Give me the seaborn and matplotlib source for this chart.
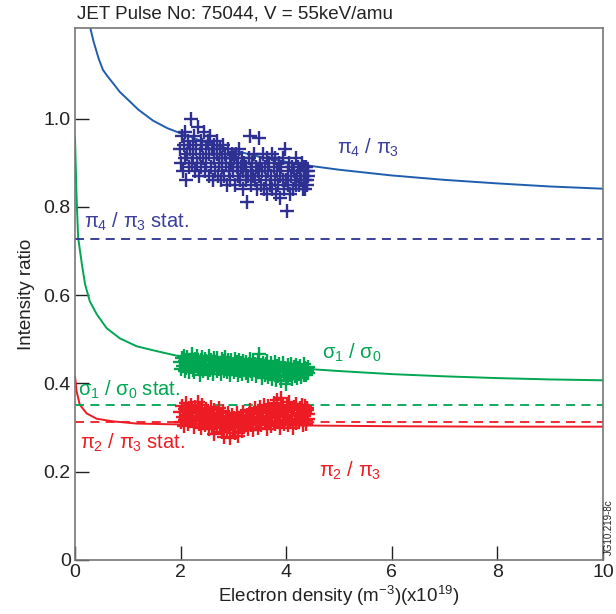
import matplotlib
matplotlib.use('Agg')
import matplotlib.pyplot as plt
import seaborn as sns
from matplotlib.ticker import FuncFormatter

# measured electron density for each time slice (x10^19 m^-3)
ne = [1.99, 2.01, 2.03, 2.04, 2.06, 2.08, 2.09, 2.11, 2.13, 2.14, 2.16, 2.18, 2.19, 2.21, 2.23,
      2.24, 2.26, 2.28, 2.29, 2.31, 2.33, 2.34, 2.36, 2.38, 2.39, 2.41, 2.43, 2.44, 2.46, 2.48,
      2.49, 2.51, 2.53, 2.54, 2.56, 2.58, 2.59, 2.61, 2.63, 2.64, 2.66, 2.68, 2.69, 2.71, 2.73,
      2.74, 2.76, 2.78, 2.79, 2.81, 2.83, 2.84, 2.86, 2.88, 2.89, 2.91, 2.93, 2.94, 2.96, 2.98,
      2.99, 3.01, 3.03, 3.04, 3.06, 3.08, 3.09, 3.11, 3.13, 3.14, 3.16, 3.18, 3.19, 3.21, 3.23,
      3.24, 3.26, 3.28, 3.29, 3.31, 3.33, 3.34, 3.36, 3.38, 3.39, 3.41, 3.43, 3.44, 3.46, 3.48,
      3.49, 3.51, 3.53, 3.54, 3.56, 3.58, 3.59, 3.61, 3.63, 3.64, 3.66, 3.68, 3.69, 3.71, 3.73,
      3.74, 3.76, 3.78, 3.79, 3.81, 3.83, 3.84, 3.86, 3.88, 3.89, 3.91, 3.93, 3.94, 3.96, 3.98,
      3.99, 4.01, 4.03, 4.04, 4.06, 4.08, 4.09, 4.11, 4.13, 4.14, 4.16, 4.18, 4.19, 4.21, 4.23,
      4.24, 4.26, 4.28, 4.29, 4.31, 4.33, 4.34, 4.36, 4.38, 4.39, 4.41, 4.42, 4.40, 4.37, 4.35]

# measured ratios
pi4_pi3 = [0.93, 0.90, 0.96, 0.88, 0.94, 0.91, 0.97, 0.86, 0.92, 0.95, 0.89, 0.93, 1.00, 0.90, 0.94,
           0.91, 0.96, 0.88, 0.93, 0.90, 0.98, 0.87, 0.92, 0.95, 0.89, 0.94, 0.91, 0.97, 0.88, 0.93,
           0.90, 0.95, 0.87, 0.92, 0.96, 0.89, 0.93, 0.86, 0.91, 0.94, 0.88, 0.92, 0.95, 0.87, 0.90,
           0.93, 0.86, 0.91, 0.89, 0.94, 0.87, 0.92, 0.90, 0.85, 0.93, 0.88, 0.91, 0.86, 0.90, 0.92,
           0.88, 0.91, 0.85, 0.92, 0.89, 0.87, 0.90, 0.93, 0.86, 0.89, 0.91, 0.84, 0.88, 0.90, 0.86,
           0.89, 0.81, 0.87, 0.91, 0.96, 0.88, 0.85, 0.90, 0.87, 0.92, 0.86, 0.89, 0.84, 0.88, 0.955,
           0.87, 0.90, 0.85, 0.88, 0.92, 0.84, 0.89, 0.86, 0.91, 0.83, 0.88, 0.90, 0.85, 0.87, 0.92,
           0.84, 0.89, 0.86, 0.91, 0.83, 0.88, 0.85, 0.90, 0.87, 0.82, 0.89, 0.86, 0.91, 0.84, 0.93,
           0.86, 0.79, 0.88, 0.85, 0.90, 0.83, 0.87, 0.89, 0.84, 0.88, 0.86, 0.91, 0.85, 0.87, 0.89,
           0.85, 0.88, 0.86, 0.90, 0.84, 0.87, 0.89, 0.86, 0.88, 0.85, 0.87, 0.88, 0.86, 0.89, 0.84]
sig1_sig0 = [0.448, 0.432, 0.457, 0.440, 0.463, 0.428, 0.451, 0.436, 0.459, 0.444, 0.425, 0.454, 0.438, 0.466, 0.431,
             0.449, 0.426, 0.455, 0.441, 0.462, 0.433, 0.447, 0.420, 0.452, 0.437, 0.460, 0.429, 0.445, 0.456, 0.434,
             0.450, 0.424, 0.443, 0.461, 0.430, 0.453, 0.439, 0.422, 0.457, 0.435, 0.448, 0.427, 0.458, 0.442, 0.432,
             0.446, 0.421, 0.455, 0.436, 0.450, 0.428, 0.459, 0.440, 0.425, 0.452, 0.433, 0.447, 0.419, 0.454, 0.438,
             0.444, 0.426, 0.456, 0.431, 0.449, 0.418, 0.441, 0.453, 0.429, 0.446, 0.422, 0.451, 0.435, 0.440, 0.424,
             0.448, 0.430, 0.417, 0.443, 0.455, 0.427, 0.439, 0.421, 0.450, 0.433, 0.445, 0.416, 0.437, 0.452, 0.428,
             0.466, 0.425, 0.441, 0.413, 0.447, 0.432, 0.420, 0.444, 0.429, 0.450, 0.415, 0.438, 0.426, 0.446, 0.411,
             0.435, 0.421, 0.449, 0.428, 0.408, 0.440, 0.417, 0.444, 0.425, 0.436, 0.405, 0.431, 0.447, 0.419, 0.434,
             0.398, 0.427, 0.442, 0.414, 0.433, 0.420, 0.445, 0.410, 0.430, 0.438, 0.416, 0.441, 0.424, 0.412, 0.436,
             0.422, 0.439, 0.415, 0.431, 0.426, 0.443, 0.418, 0.434, 0.421, 0.429, 0.437, 0.423, 0.432, 0.419, 0.428]
pi2_pi3 = [0.335, 0.312, 0.348, 0.325, 0.303, 0.341, 0.318, 0.356, 0.329, 0.307, 0.344, 0.321, 0.352, 0.314, 0.338,
           0.326, 0.301, 0.346, 0.317, 0.333, 0.359, 0.309, 0.340, 0.323, 0.298, 0.350, 0.315, 0.331, 0.306, 0.343,
           0.320, 0.336, 0.296, 0.328, 0.311, 0.347, 0.302, 0.324, 0.339, 0.285, 0.316, 0.332, 0.299, 0.321, 0.344,
           0.308, 0.327, 0.290, 0.318, 0.337, 0.279, 0.312, 0.325, 0.295, 0.334, 0.304, 0.320, 0.276, 0.314, 0.329,
           0.300, 0.322, 0.287, 0.316, 0.333, 0.305, 0.280, 0.319, 0.310, 0.327, 0.293, 0.313, 0.336, 0.302, 0.318,
           0.309, 0.328, 0.297, 0.321, 0.340, 0.306, 0.316, 0.331, 0.294, 0.324, 0.345, 0.311, 0.330, 0.300, 0.337,
           0.318, 0.346, 0.305, 0.333, 0.322, 0.352, 0.310, 0.339, 0.296, 0.326, 0.349, 0.314, 0.335, 0.303, 0.343,
           0.321, 0.355, 0.307, 0.337, 0.328, 0.362, 0.312, 0.341, 0.300, 0.333, 0.368, 0.318, 0.347, 0.309, 0.338,
           0.324, 0.351, 0.305, 0.336, 0.357, 0.315, 0.342, 0.327, 0.299, 0.346, 0.320, 0.354, 0.311, 0.339, 0.329,
           0.313, 0.344, 0.322, 0.350, 0.306, 0.335, 0.326, 0.348, 0.317, 0.340, 0.330, 0.319, 0.345, 0.308, 0.336]

# model curves
pi4_model_x = [0.25, 0.30, 0.35, 0.40, 0.45, 0.53, 0.62, 0.72, 0.85, 1.0, 1.2, 1.48, 1.75, 2.12, 2.5, 3.0, 3.5,
               4.0, 4.5, 5.0, 6.0, 7.0, 8.0, 9.0, 10.0]
pi4_model_y = [1.23, 1.20, 1.175, 1.155, 1.135, 1.11, 1.095, 1.08, 1.06, 1.043, 1.02, 0.995, 0.978, 0.961, 0.945,
               0.928, 0.913, 0.902, 0.892, 0.884, 0.871, 0.861, 0.853, 0.846, 0.841]
sig_model_x = [0.0, 0.03, 0.06, 0.13, 0.19, 0.28, 0.41, 0.6, 0.85, 1.17, 1.55, 1.99, 2.5, 3.0, 4.0, 5.0, 6.0,
               7.0, 8.0, 9.0, 10.0]
sig_model_y = [0.957, 0.82, 0.73, 0.67, 0.625, 0.586, 0.557, 0.525, 0.502, 0.484, 0.473, 0.461, 0.453, 0.446,
               0.436, 0.428, 0.421, 0.416, 0.412, 0.409, 0.407]
pi2_model_x = [0.0, 0.03, 0.09, 0.22, 0.41, 0.72, 1.17, 2.0, 4.0, 6.0, 8.0, 10.0]
pi2_model_y = [0.416, 0.382, 0.352, 0.332, 0.32, 0.314, 0.309, 0.307, 0.305, 0.303, 0.302, 0.302]

# statistical-population values
pi4_stat = 0.727
sig_stat = 0.352
pi2_stat = 0.312

blue_pts, blue_line, blue_txt = '#2e3192', '#1f5eae', '#3a3f9c'
green = '#00a651'
red = '#ed1c24'

sns.set_style('ticks')
plt.rcParams['font.family'] = ['Liberation Sans', 'DejaVu Sans']
plt.rcParams['mathtext.fontset'] = 'custom'
plt.rcParams['mathtext.rm'] = 'Liberation Sans'
plt.rcParams['mathtext.it'] = 'Liberation Sans'

fig = plt.figure(figsize=(6.16, 6.14), dpi=100)
ax = fig.add_axes([75 / 616, 1 - 560 / 614, 528 / 616, 532 / 614])

# model curves
sns.lineplot(x=pi4_model_x, y=pi4_model_y, color=blue_line, lw=1.4, estimator=None, sort=False, ax=ax)
sns.lineplot(x=sig_model_x, y=sig_model_y, color=green, lw=1.4, estimator=None, sort=False, ax=ax)
sns.lineplot(x=pi2_model_x, y=pi2_model_y, color=red, lw=1.4, estimator=None, sort=False, ax=ax)

# stat lines
ax.axhline(pi4_stat, color=blue_pts, lw=1.3, dashes=(5, 3.5))
ax.axhline(sig_stat, color=green, lw=1.3, dashes=(5, 3.5))
ax.axhline(pi2_stat, color=red, lw=1.3, dashes=(5, 3.5))

# measurements
for vals, c in [(pi4_pi3, blue_pts), (sig1_sig0, green), (pi2_pi3, red)]:
    sns.scatterplot(x=ne, y=vals, marker='+', s=90, linewidth=1.7, color=c, ax=ax, zorder=3)

fs = 14.5
ax.text(4.96, 0.92, r'$\pi_4$ / $\pi_3$', color=blue_txt, fontsize=fs)
ax.text(0.17, 0.752, r'$\pi_4$ / $\pi_3$ stat.', color=blue_txt, fontsize=fs)
ax.text(4.67, 0.457, r'$\sigma_1$ / $\sigma_0$', color=green, fontsize=fs)
ax.text(0.05, 0.372, r'$\sigma_1$ / $\sigma_0$ stat.', color=green, fontsize=fs)
ax.text(0.1, 0.252, r'$\pi_2$ / $\pi_3$ stat.', color=red, fontsize=fs)
ax.text(4.62, 0.189, r'$\pi_2$ / $\pi_3$', color=red, fontsize=fs)

ax.set_xlim(0, 10)
ax.set_ylim(0, 1.205)
ax.set_xticks([0, 2, 4, 6, 8, 10])
ax.set_yticks([0, 0.2, 0.4, 0.6, 0.8, 1.0])
ax.yaxis.set_major_formatter(FuncFormatter(lambda v, p: '0' if v == 0 else f'{v:.1f}'))
ax.tick_params(direction='in', length=10, width=1, labelsize=14, colors='#222222', pad=3)
for s in ax.spines.values():
    s.set_color('#777777')
    s.set_linewidth(1.2)

ax.set_xlabel(r'Electron density (m$^{-3}$)(x10$^{19}$)', fontsize=13.5, labelpad=2, color='#222222')
ax.set_ylabel('Intensity ratio', fontsize=13.5, labelpad=6, color='#222222')
fig.text(77 / 616, 1 - 14 / 614, 'JET Pulse No: 75044, V = 55keV/amu', fontsize=13.5,
         va='center', ha='left', color='#222222')
fig.text(609 / 616, 1 - 555 / 614, 'JG10.219-8c', fontsize=7, rotation=90,
         va='bottom', ha='center', color='#222222')

plt.savefig('out.png', dpi=100)
plt.close()
